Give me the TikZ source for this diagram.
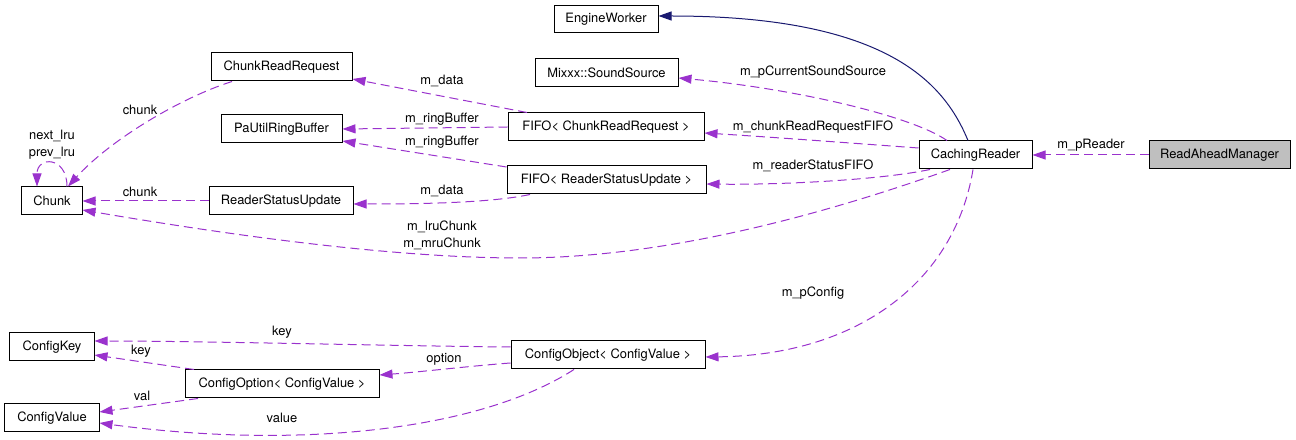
\documentclass[tikz,border=0pt]{standalone}
\usepackage{fontspec}
\setmainfont{TeX Gyre Heros}
\usetikzlibrary{arrows.meta}
\definecolor{edgepurple}{HTML}{9A32CD}
\definecolor{edgenavy}{HTML}{191970}
\definecolor{focusgray}{HTML}{BFBFBF}
\begin{document}
\begin{tikzpicture}[x=1bp,y=-1bp,
  every node/.style={font=\fontsize{12.9bp}{15bp}\selectfont, inner sep=0pt},
  cls/.style={draw=black, line width=1bp, minimum height=28bp, fill=white},
  focus/.style={cls, fill=focusgray},
  lbl/.style={fill=none},
  uses/.style={draw=edgepurple, line width=1bp, dash pattern=on 9bp off 5bp,
    -{Triangle[length=13bp,width=9bp,fill=edgepurple]}},
  inherit/.style={draw=edgenavy, line width=1bp,
    -{Triangle[length=13bp,width=9bp,fill=edgenavy]}}]
\useasboundingbox (0,0) rectangle (1296,440);

% nodes
\node[cls, minimum width=104bp, minimum height=27bp] (EW) at (606,19.5) {EngineWorker};
\node[cls, minimum width=143bp] (MSS) at (606.5,73) {Mixxx::SoundSource};
\node[cls, minimum width=141bp] (CRR) at (281.5,67) {ChunkReadRequest};
\node[cls, minimum width=121bp] (PURB) at (281.5,129) {PaUtilRingBuffer};
\node[cls, minimum width=196bp] (F1) at (606,127) {FIFO< ChunkReadRequest >};
\node[cls, minimum width=199bp] (F2) at (606.5,180) {FIFO< ReaderStatusUpdate >};
\node[cls, minimum width=113bp] (CR) at (975.5,155) {CachingReader};
\node[focus, minimum width=141bp] (RAM) at (1219.5,155) {ReadAheadManager};
\node[cls, minimum width=60bp] (CH) at (52,201) {Chunk};
\node[cls, minimum width=144bp] (RSU) at (281,201) {ReaderStatusUpdate};
\node[cls, minimum width=84bp] (CK) at (52,347) {ConfigKey};
\node[cls, minimum width=94bp] (CV) at (52,418) {ConfigValue};
\node[cls, minimum width=194bp] (COP) at (282,384) {ConfigOption< ConfigValue >};
\node[cls, minimum width=194bp] (CO) at (608,355) {ConfigObject< ConfigValue >};

% inheritance
\draw[inherit] ([xshift=-7.5bp]CR.north) .. controls (945,85) and (890,16) .. ([yshift=3.5bp]EW.east);

% CachingReader members
\draw[uses] ([xshift=-28.5bp]CR.north) .. controls (910,115) and (790,88) .. ([yshift=-5bp]MSS.east);
\node[lbl] (l1) at (813,72) {m\_pCurrentSoundSource};
\draw[uses] ([yshift=7bp]CR.west) .. controls (850,143) and (770,137) .. ([yshift=-6bp]F1.east);
\node[lbl] (l2) at (813,127) {m\_chunkReadRequestFIFO};
\draw[uses] ([xshift=-45.5bp]CR.south) .. controls (880,180) and (780,185) .. ([yshift=-4bp]F2.east);
\node[lbl] (l3) at (813,166) {m\_readerStatusFIFO};
\coordinate (lowpt) at (520,258);
\draw[uses] ([xshift=-25.5bp]CR.south) .. controls (850,205) and (680,258) .. (lowpt)
  .. controls (380,258) and (200,230) .. ([yshift=-9bp]CH.east);
\node[lbl] (l4) at (442,227) {m\_lruChunk};
\node[lbl] (l5) at (442,244) {m\_mruChunk};
\draw[uses] ([xshift=-2.5bp]CR.south) .. controls (955,280) and (860,355) .. ([yshift=-2bp]CO.east);
\node[lbl] (l6) at (813,293) {m\_pConfig};
\draw[uses] (RAM.west) -- (CR.east);
\node[lbl] (l7) at (1091,145) {m\_pReader};

% FIFO members
\draw[uses] ([xshift=-79bp]F1.north) -- ([yshift=-12bp]CRR.east);
\node[lbl] (l8) at (442,81) {m\_data};
\draw[uses] (F1.west) -- (PURB.east);
\node[lbl] (l9) at (442,119) {m\_ringBuffer};
\draw[uses] ([yshift=13bp]F2.west) -- ([yshift=-12bp]PURB.east);
\node[lbl] (l10) at (442,142) {m\_ringBuffer};
\draw[uses] ([xshift=-76.5bp]F2.south) .. controls (490,203) and (420,204) .. ([yshift=-3bp]RSU.east);
\node[lbl] (l11) at (442,191) {m\_data};

% chunk links
\draw[uses] ([xshift=-49.5bp]CRR.south) .. controls (180,98) and (110,140) .. ([xshift=16bp]CH.north);
\node[lbl] (l12) at (140,110) {chunk};
\draw[uses] (RSU.west) -- (CH.east);
\node[lbl] (l13) at (140,192) {chunk};
\draw[uses] ([xshift=15bp]CH.north) .. controls (67,156) and (37,156) .. ([xshift=-15bp]CH.north);
\node[lbl] (l14) at (52,136) {next\_lru};
\node[lbl] (l15) at (52,153) {prev\_lru};

% config links
\draw[uses] ([yshift=8bp]CO.west) .. controls (400,346) and (200,341) .. ([yshift=6bp]CK.east);
\node[lbl] (l16) at (282,332) {key};
\draw[uses] ([yshift=-8bp]CO.west) .. controls (470,366) and (420,372) .. ([yshift=9bp]COP.east);
\node[lbl] (l17) at (444,359) {option};
\draw[uses] ([xshift=-88bp]COP.north) -- ([yshift=-8bp]CK.east);
\node[lbl] (l18) at (141,351) {key};
\draw[uses] ([xshift=-84bp]COP.south) -- ([yshift=6bp]CV.east);
\node[lbl] (l19) at (142,396) {val};
\draw[uses] ([xshift=-34bp]CO.south) .. controls (480,430) and (300,450) .. ([yshift=-5bp]CV.east);
\node[lbl] (l20) at (282,418) {value};
\end{tikzpicture}
\end{document}
